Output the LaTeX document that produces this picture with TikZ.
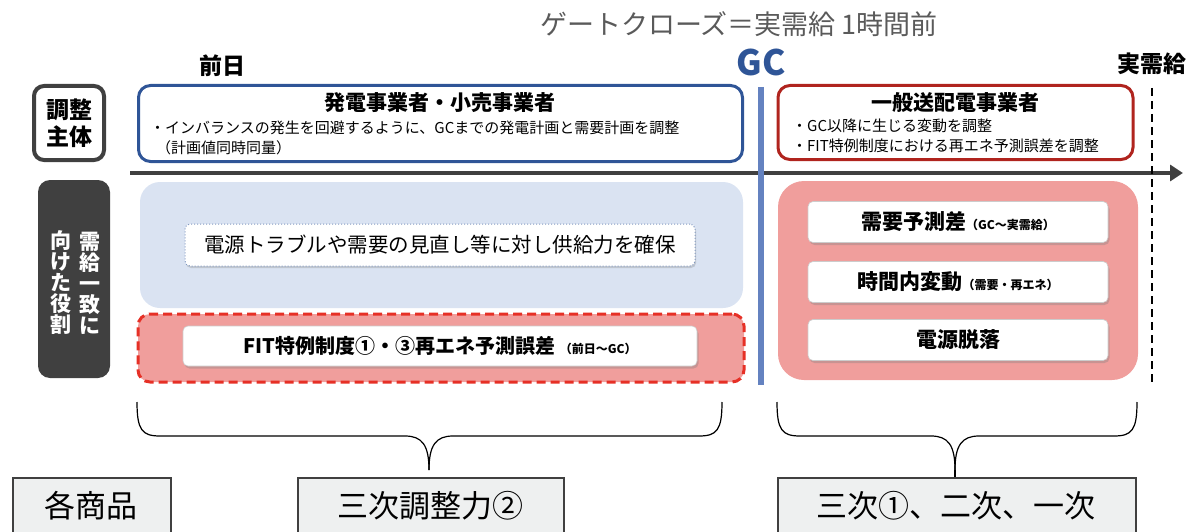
\documentclass[tikz,border=0pt]{standalone}
\usepackage{fontspec}
\setmainfont{Noto Sans CJK JP}
\usetikzlibrary{arrows.meta,shadows}
\definecolor{dk}{RGB}{64,64,64}
\definecolor{bborder}{RGB}{47,85,151}
\definecolor{gcline}{RGB}{100,130,192}
\definecolor{lblue}{RGB}{218,227,242}
\definecolor{pinkf}{RGB}{240,158,156}
\definecolor{rdash}{RGB}{230,48,38}
\definecolor{rborder}{RGB}{176,36,30}
\definecolor{graybox}{RGB}{238,240,240}
\definecolor{titlegray}{RGB}{90,90,90}
\tikzset{
  fs/.style={font=\fontsize{#1}{#1}\selectfont},
  fsb/.style={font=\fontsize{#1}{#1}\selectfont\bfseries},
  whitebox/.style={draw=gray!40, fill=white, rounded corners=5pt, line width=0.6pt,
    drop shadow={opacity=0.35, shadow xshift=1.5pt, shadow yshift=-2.5pt}},
  prodbox/.style={draw=dk, fill=graybox, line width=1.5pt},
  bracel/.style={draw=black, line width=1.2pt},
}
\begin{document}
\begin{tikzpicture}[x=1pt,y=-1pt]
\useasboundingbox (0,0) rectangle (1193,532);
% title
\node[fs=27, text=titlegray] (title) at (739,24) {ゲートクローズ＝実需給 1時間前};
\node[fsb=23] (prev) at (222,66) {前日};
\node[fsb=35, text=bborder] (gc) at (761,62) {GC};
\node[fsb=23] (real) at (1152,64) {実需給};
% axis
\coordinate (axs) at (130,173);
\coordinate (axe) at (1183,173);
\draw[dk, line width=4.5pt, -{Triangle[length=13pt,width=16pt]}] (axs) -- (axe);
% GC line
\coordinate (gct) at (761,87);
\coordinate (gcb) at (761,385);
\draw[gcline, line width=6.5pt] (gct) -- (gcb);
% dashed real-time line
\coordinate (rt) at (1152,88);
\coordinate (rb) at (1152,386);
\draw[black, line width=2pt, dash pattern=on 8pt off 5pt] (rt) -- (rb);
% adjustment subject label
\node[draw=dk, line width=4pt, rounded corners=10pt, fill=white, minimum width=70pt, minimum height=74pt, fsb=23, align=center] (subj) at (69,123) {調整\\[4pt]主体};
% blue box
\node[draw=bborder, line width=3pt, rounded corners=12pt, minimum width=604pt, minimum height=76pt] (bluebox) at (440.5,123.5) {};
\node[fsb=21] (bluet) at (440,103) {発電事業者・小売事業者};
\node[fs=15, anchor=west, inner sep=0pt] (blue1) at (150,128) {・インバランスの発生を回避するように、GCまでの発電計画と需要計画を調整};
\node[fs=15, anchor=west, inner sep=0pt] (blue2) at (156,148) {（計画値同時同量）};
% red box
\node[draw=rborder, line width=3pt, rounded corners=12pt, minimum width=355pt, minimum height=74pt] (redbox) at (955.5,122.5) {};
\node[fsb=21] (redt) at (955,103) {一般送配電事業者};
\node[fs=15, anchor=west, inner sep=0pt] (red1) at (792,126) {・GC以降に生じる変動を調整};
\node[fs=15, anchor=west, inner sep=0pt] (red2) at (792,146) {・FIT特例制度における再エネ予測誤差を調整};
% role label
\node[fill=dk, rounded corners=12pt, minimum width=72pt, minimum height=198pt] (role) at (74,279) {};
\node[fsb=21, text=white, align=center, inner sep=0pt] (rolec1) at (90,283) {需\\[0pt]給\\[0pt]一\\[0pt]致\\[0pt]に};
\node[fsb=21, text=white, align=center, inner sep=0pt] (rolec2) at (61,283) {向\\[0pt]け\\[0pt]た\\[0pt]役\\[0pt]割};
% light blue panel
\node[fill=lblue, rounded corners=20pt, minimum width=603pt, minimum height=126pt] (bluepanel) at (441.5,245) {};
\node[draw=bborder!60, dotted, line width=1pt, fill=white, rounded corners=5pt, minimum width=510pt, minimum height=42pt, fs=20.5,
  drop shadow={opacity=0.3, shadow xshift=1pt, shadow yshift=-2pt}] (supply) at (440,245) {電源トラブルや需要の見直し等に対し供給力を確保};
% red dashed panel
\node[draw=rdash, fill=pinkf, dashed, dash pattern=on 9pt off 5pt, line width=3pt, rounded corners=12pt, minimum width=606pt, minimum height=68pt] (fitpanel) at (441,348) {};
\node[whitebox, minimum width=514pt, minimum height=40pt] (fitbox) at (440,346) {\fontsize{20}{20}\selectfont\bfseries FIT特例制度①・③再エネ予測誤差\ \fontsize{12}{12}\selectfont（前日～GC）};
% right pink panel
\node[fill=pinkf, rounded corners=26pt, minimum width=360pt, minimum height=199pt] (pinkpanel) at (958,280.5) {};
\node[whitebox, minimum width=300pt, minimum height=41pt] (d1) at (958,222) {\fontsize{21}{21}\selectfont\bfseries 需要予測差\fontsize{12}{12}\selectfont（GC～実需給）};
\node[whitebox, minimum width=300pt, minimum height=41pt] (d2) at (958,282) {\fontsize{21}{21}\selectfont\bfseries 時間内変動\fontsize{12}{12}\selectfont（需要・再エネ）};
\node[whitebox, minimum width=300pt, minimum height=41pt] (d3) at (958,340) {\fontsize{21}{21}\selectfont\bfseries 電源脱落};
% product boxes
\node[prodbox, minimum width=158pt, minimum height=70pt, anchor=north west] (p0) at (12,477) {};
\node[fs=31] (p0t) at (91,506) {各商品};
\node[prodbox, minimum width=266pt, minimum height=70pt, anchor=north west] (p1) at (297,477) {};
\node[fs=31] (p1t) at (430,506) {三次調整力②};
\node[prodbox, minimum width=358pt, minimum height=70pt, anchor=north west] (p2) at (777,477) {};
\node[fs=31] (p2t) at (956,506) {三次①、二次、一次};
% braces
\coordinate (b1tip) at (429,470);
\draw[bracel] (137,402) .. controls (137,430) and (142,436) .. (160,436) -- (405,436)
  .. controls (422,436) and (429,445) .. (b1tip);
\draw[bracel] (722,402) .. controls (722,430) and (717,436) .. (699,436) -- (453,436)
  .. controls (436,436) and (429,445) .. (b1tip);
\coordinate (b2tip) at (955,470);
\draw[bracel] (777,402) .. controls (777,430) and (782,436) .. (800,436) -- (931,436)
  .. controls (948,436) and (955,445) .. (b2tip);
\draw[bracel] (1137,402) .. controls (1137,430) and (1132,436) .. (1114,436) -- (979,436)
  .. controls (962,436) and (955,445) .. (b2tip);
\draw[bracel] (b2tip) -- (p2.north -| b2tip);
\end{tikzpicture}
\end{document}
